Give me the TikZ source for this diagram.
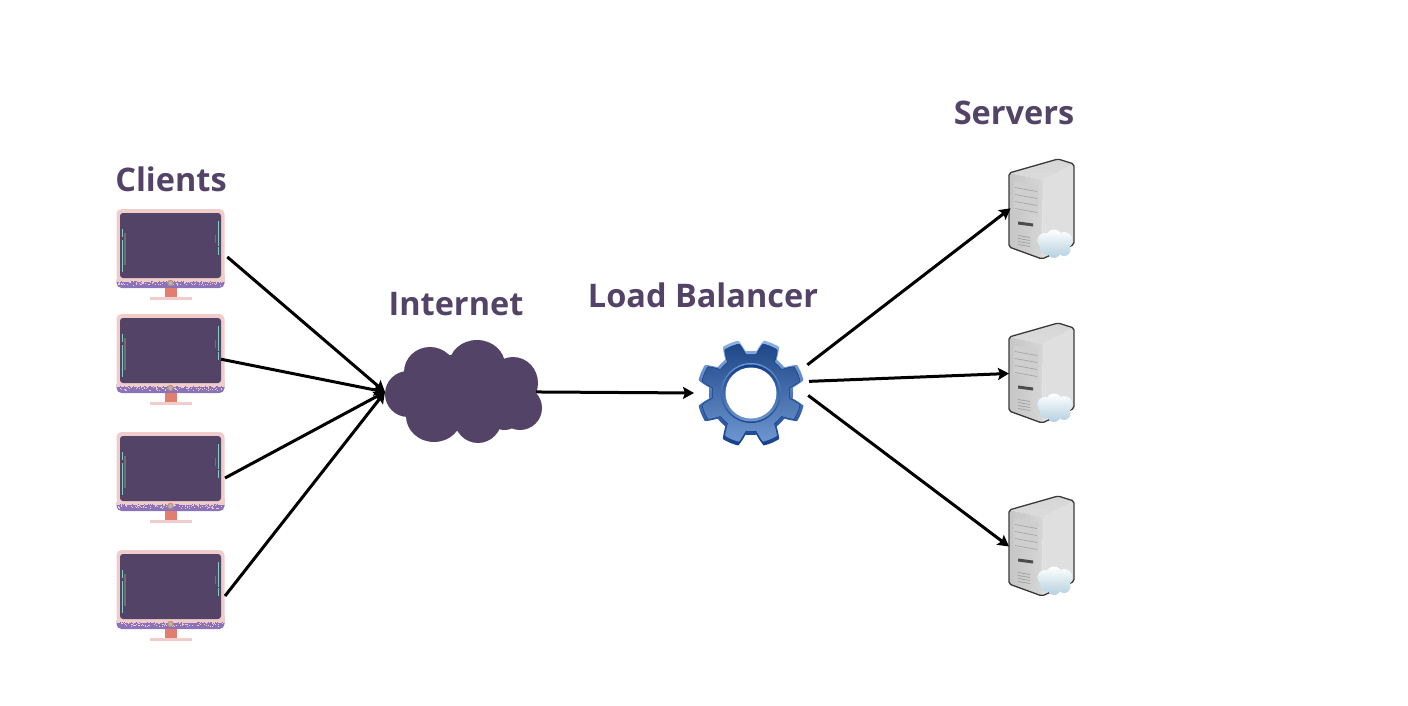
\documentclass[tikz,border=0pt]{standalone}
\usepackage{fontspec}
\setmainfont{Open Sans}
\usetikzlibrary{arrows.meta}
\definecolor{plum}{HTML}{534467}
\definecolor{pinkbody}{HTML}{F0CDCB}
\definecolor{purpleband}{HTML}{8A73B8}
\definecolor{tealline}{HTML}{7FCFC0}
\definecolor{standred}{HTML}{E07F70}
\definecolor{gearlight}{HTML}{8FB2E6}
\definecolor{geardark}{HTML}{123F8C}
\definecolor{gearface}{HTML}{1E4788}
\definecolor{gearlow}{HTML}{6E96D0}
\definecolor{puffblue}{HTML}{B4D0DF}
\tikzset{
	label/.style={font=\fontsize{32.5}{36}\selectfont\bfseries,text=plum,inner sep=0pt},
	arrow/.style={-{Stealth[length=11pt,width=12pt,inset=2pt]},line width=3pt,black},
	monbox/.style={minimum width=109pt,minimum height=92pt,inner sep=0pt,outer sep=0pt},
	srvbox/.style={minimum width=66pt,minimum height=101pt,inner sep=0pt,outer sep=0pt},
	gearbox/.style={minimum width=108pt,minimum height=108pt,inner sep=0pt,outer sep=0pt},
	netbox/.style={minimum width=157pt,minimum height=102pt,inner sep=0pt,outer sep=0pt},
	monitorpic/.pic={
		\fill[purpleband,rounded corners=5pt] (-54,20) rectangle (54,33);
		\fill[pinkbody,rounded corners=5pt] (-54,-46) rectangle (54,26);
		\fill[pinkbody] (-54,20) rectangle (54,27);
		\foreach \i in {1,...,90}
			\fill[pinkbody] ({-53+105*rnd},{26.5+3.5*rnd}) rectangle +(.8,.8);
		\foreach \i in {1,...,40}
			\fill[purpleband] ({-53+105*rnd},{25.5+1.5*rnd}) rectangle +(.8,.8);
		\fill[plum,rounded corners=3pt] (-50.5,-42) rectangle (50.5,23);
		\fill[pinkbody] (-21,42) rectangle (21,45);
		\fill[standred] (-5.5,33) rectangle (6,42);
		\fill[standred] (0,28) circle (3.2pt);
		\fill[tealline] (0,28) circle (2pt);
		\draw[tealline,line width=1pt] (-48,-26) -- (-48,-18) (-48,-15) -- (-48,17) (47.5,-34) -- (47.5,-9) (47.5,-8) -- (47.5,0);
		\draw[gray!70!plum,line width=1.2pt] (-45.5,-22) -- (-45.5,10) (45,-20) -- (45,-12);
	},
	serverpic/.pic={
		\shade[top color=gray!32,bottom color=gray!28] (-33,-36.5) -- (16,-50.5) -- (32,-45.5) -- (1,-29.5) -- cycle;
		\shade[left color=gray!45,right color=gray!32] (-33,-36.5) -- (1,-29.5) -- (0,49.5) -- (-33,37.5) -- cycle;
		\fill[gray!25] (1,-29.5) -- (32,-45.5) -- (32,35) -- (0,49.5) -- cycle;
		\draw[gray!45!black,line width=1.3pt,line join=round,rounded corners=2pt] (-33,-36.5) -- (16,-50.5) -- (32,-45.5) -- (32,35) -- (0,49.5) -- (-33,37.5) -- cycle;
		\fill[gray!38] (-28,-28) -- (-4,-24) -- (-4,6) -- (-28,0) -- cycle;
		\foreach \y in {-22,-15,-8,-1}
			\draw[gray!70,line width=.7pt] (-27,\y) -- (-5,\y+4);
		\fill[gray!60!black] (-24,12) -- (-9,14) -- (-9,17) -- (-24,15) -- cycle;
		\foreach \y in {26,29,32,35}
			\draw[gray!75,line width=.7pt] (-24,\y) -- (-12,\y+2);
		\shade[top color=white,bottom color=puffblue] (3,31) circle (7.5) (12,28) circle (8) (22,31) circle (8.5) (22,40) circle (6.5) (12,42) circle (6.5) (4,39) circle (6);
	},
	gearpic/.pic={
		\shade[top color=gearlight,bottom color=geardark] plot[domain=0:359,samples=240,variable=\t] (\t:{gearr(\t)}) -- cycle;
		\shade[top color=gearface,bottom color=gearlow,draw=geardark,line width=.5pt] plot[domain=0:359,samples=240,variable=\t] (\t:{gearr(\t)-3.5}) -- cycle;
		\shade[top color=gearlow,bottom color=gearface] (0,0) circle (30);
		\shade[top color=geardark,bottom color=gearlow] (0,0) circle (28.5);
		\fill[white] (0,0) circle (25.5);
	},
	netpic/.pic={
		\fill[plum] (-55.5,2) circle (23) (-33.5,-20) ellipse (26 and 25) (13.5,-27) ellipse (28 and 25) (49.5,-9) ellipse (25 and 26) (56.5,16) circle (22) (14.5,26) ellipse (24 and 25) (-29.5,24) ellipse (28 and 26) (41,20) circle (18) (0,0) ellipse (60 and 38);
	},
	declare function={gearu(\t)=abs(mod(\t,45)-22.5);gearr(\t)=42+12*min(1,max(0,(15-gearu(\t))/6));}
}
\begin{document}
\begin{tikzpicture}[x=1pt,y=-1pt]
	\useasboundingbox (0,0) rectangle (1408,706);
	\pgfmathsetseed{11}
	% clients
	\node[label] at (171,179) {Clients};
	\foreach \name/\y in {mon1/255,mon2/360,mon3/478,mon4/596}{
		\node[monbox] (\name) at (170.5,\y) {};
		\pic at (\name) {monitorpic};
	}
	% internet
	\node[label] at (456,304) {Internet};
	\node[netbox] (net) at (463.5,392) {};
	\pic at (net) {netpic};
	% load balancer
	\node[label] at (703,295) {Load Balancer};
	\node[gearbox] (lb) at (751,393) {};
	\pic at (lb) {gearpic};
	% servers
	\node[label] at (1014,112.5) {Servers};
	\foreach \name/\y in {srv1/209.5,srv2/373.5,srv3/546.5}{
		\node[srvbox] (\name) at (1042,\y) {};
		\pic at (\name) {serverpic};
	}
	% connections
	\draw[arrow,shorten <=3pt] (mon1.east) -- (net.west);
	\draw[arrow,shorten <=-4pt] (mon2.east) -- (net.west);
	\draw[arrow] (mon3.east) -- (net.west);
	\draw[arrow] (mon4.east) -- (net.west);
	\draw[arrow,shorten <=-6pt,shorten >=3pt] (net.east) -- (lb.west);
	\draw[arrow,shorten <=3pt,shorten >=-2pt] (lb.26) -- (srv1.west);
	\draw[arrow,shorten <=4pt] (lb.12) -- (srv2.west);
	\draw[arrow,shorten <=4pt] (lb.east) -- (srv3.west);
\end{tikzpicture}
\end{document}
